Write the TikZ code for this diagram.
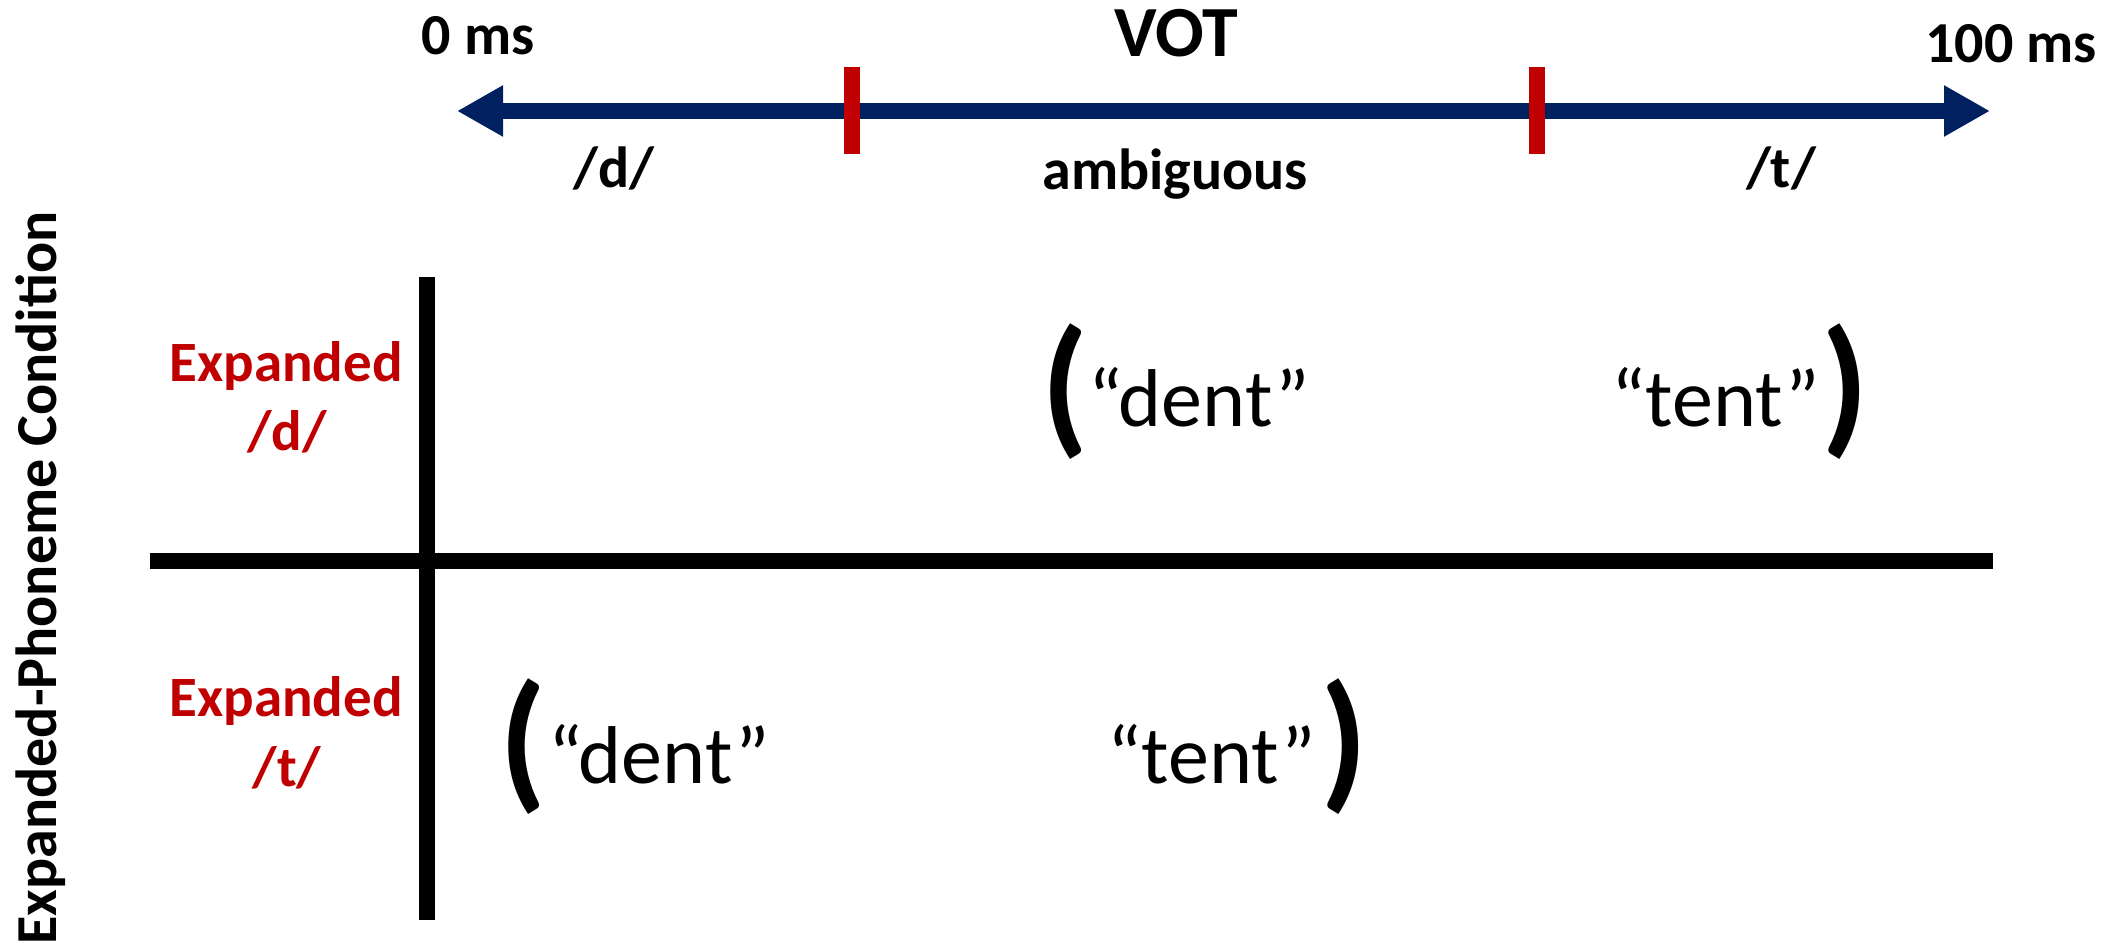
\documentclass[tikz,border=0pt]{standalone}
\usepackage{fontspec}
\setmainfont{Carlito}
\usetikzlibrary{arrows.meta}
\definecolor{votblue}{HTML}{002060}
\definecolor{votred}{HTML}{C00000}

\begin{document}
\begin{tikzpicture}[x=0.5pt,y=-0.5pt]
        \tikzstyle{scaletext}=[inner sep=0pt,anchor=base,font=\fontsize{29}{29}\selectfont\bfseries]
        \tikzstyle{condtext}=[inner sep=0pt,anchor=base,text=votred,font=\fontsize{28.5}{28.5}\selectfont\bfseries]
        \tikzstyle{word}=[inner sep=0pt,anchor=base,font=\fontsize{41}{41}\selectfont]
        \tikzstyle{paren}=[inner sep=0pt,anchor=base,font=\fontsize{76}{76}\selectfont\bfseries]
        \tikzstyle{boundary}=[draw=votred,line width=8pt]
        \tikzstyle{axisline}=[draw=black,line width=8pt]
        \useasboundingbox (0,0) rectangle (2116,945);
        % VOT continuum
        \begin{scope}
                \node [scaletext] (zero) at (478,55) {0 ms};
                \node [scaletext,font=\fontsize{36}{36}\selectfont\bfseries] (vot) at (1176,57) {VOT};
                \node [scaletext] (hundred) at (2011,63) {100 ms};
                \coordinate (zeroend) at (457,111);
                \coordinate (fullend) at (1990,111);
                \draw [votblue,line width=8pt,{Triangle[length=23pt,width=24pt]}-{Triangle[length=23pt,width=24pt]}] (zeroend) -- (fullend);
                \coordinate (dbound top) at (852,67);
                \coordinate (dbound bot) at (852,154);
                \coordinate (tbound top) at (1537,67);
                \coordinate (tbound bot) at (1537,154);
                \path [boundary] (dbound top) -- (dbound bot);
                \path [boundary] (tbound top) -- (tbound bot);
                \node [scaletext] (dzone) at (614,188) {/d/};
                \node [scaletext] (ambzone) at (1175,190) {ambiguous};
                \node [scaletext] (tzone) at (1781,188) {/t/};
        \end{scope}
        % condition grid
        \begin{scope}
                \coordinate (vtop) at (427,277);
                \coordinate (vbot) at (427,920);
                \coordinate (hleft) at (150,561);
                \coordinate (hright) at (1993,561);
                \path [axisline] (vtop) -- (vbot);
                \path [axisline] (hleft) -- (hright);
                \node [inner sep=0pt,anchor=base,rotate=90,font=\fontsize{29}{29}\selectfont\bfseries] (cond) at (56,578) {Expanded-Phoneme Condition};
                \node [condtext] (expd) at (286,382) {Expanded};
                \node [condtext] (phd) at (287,451) {/d/};
                \node [condtext] (expt) at (286,717) {Expanded};
                \node [condtext] (pht) at (287,787) {/t/};
        \end{scope}
        % category ranges
        \begin{scope}
                \node [paren] (dopen) at (1065,437) {(};
                \node [word] (ddent) at (1199,427) {“dent”};
                \node [word] (dtent) at (1716,427) {“tent”};
                \node [paren] (dclose) at (1845,437) {)};
                \node [paren] (topen) at (523,792) {(};
                \node [word] (tdent) at (659,784) {“dent”};
                \node [word] (ttent) at (1212,784) {“tent”};
                \node [paren] (tclose) at (1344,792) {)};
        \end{scope}
\end{tikzpicture}
\end{document}
